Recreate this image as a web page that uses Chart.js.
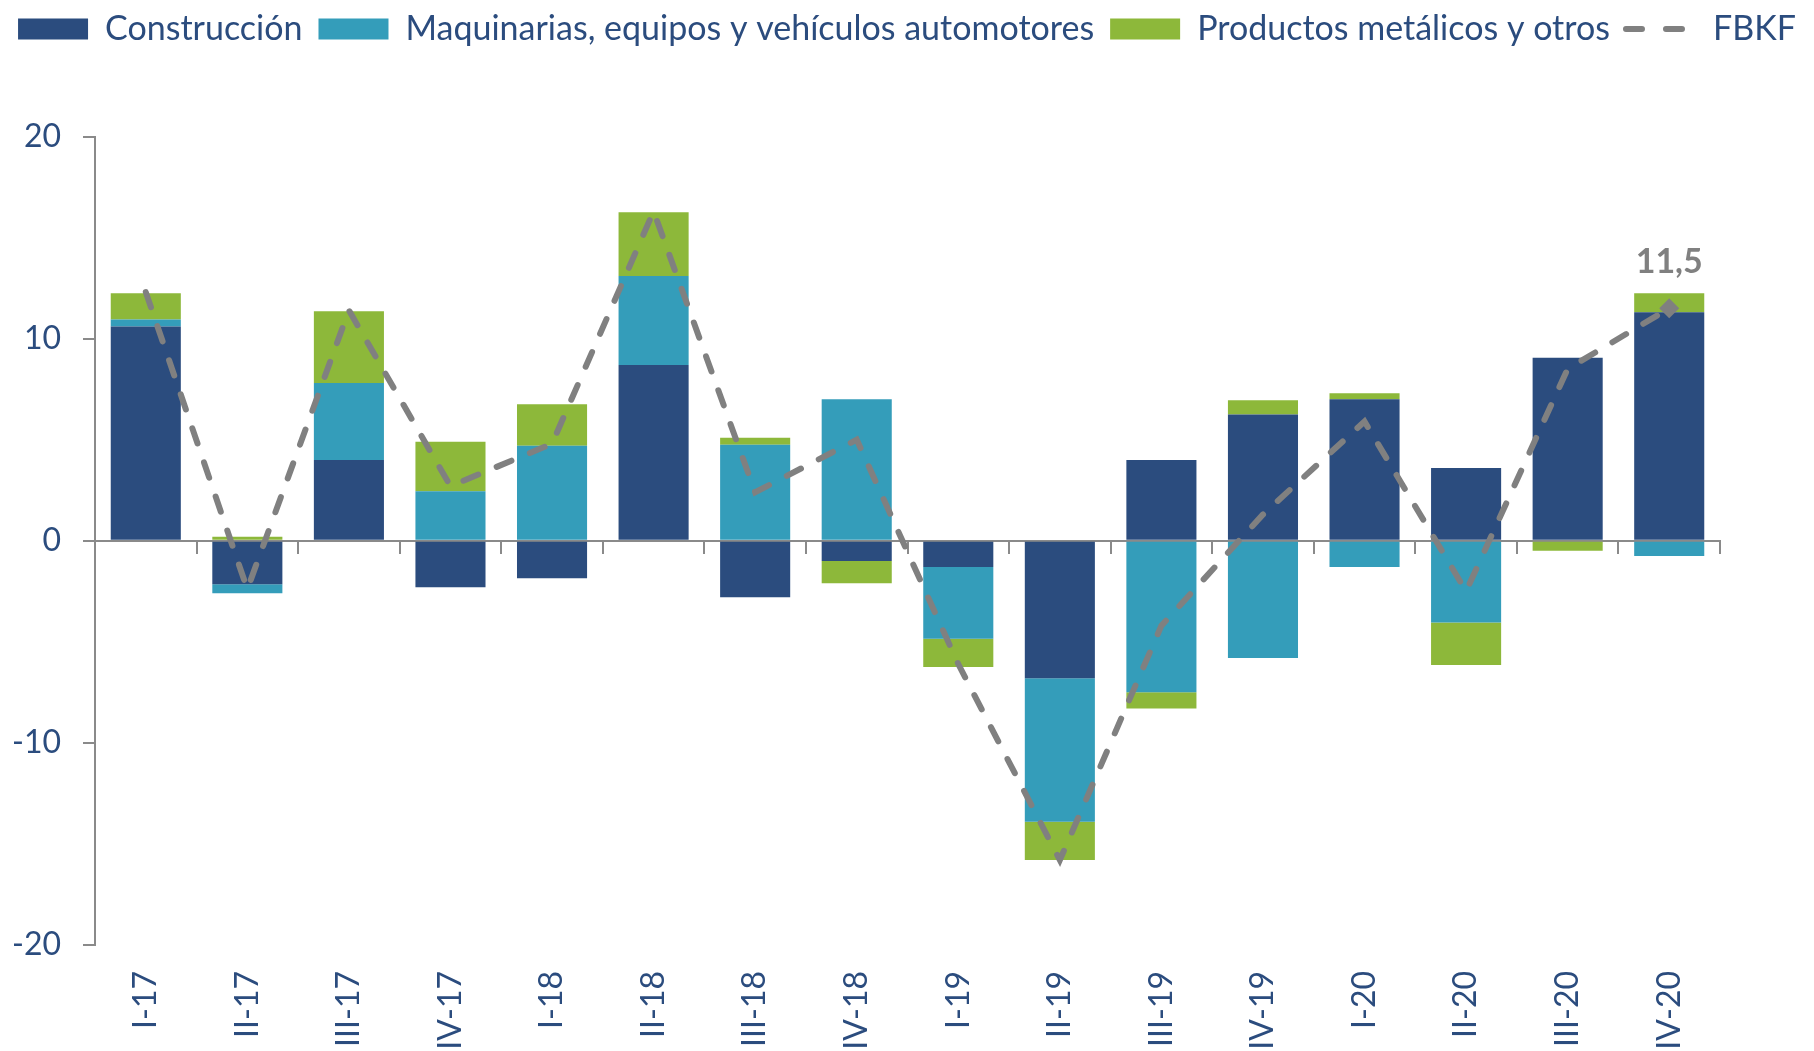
<!DOCTYPE html>
<html>
<head>
<meta charset="utf-8">
<title>FBKF</title>
<script src="https://cdn.jsdelivr.net/npm/chart.js@4.4.1/dist/chart.umd.min.js"></script>
<style>
    html, body { margin: 0; padding: 0; background: #ffffff; }
    #wrap { width: 1814px; height: 1051px; }
</style>
</head>
<body>
<div id="wrap"><canvas id="fbkfChart" width="1814" height="1051"></canvas></div>
<script>
var quarters = ['I-17', 'II-17', 'III-17', 'IV-17', 'I-18', 'II-18', 'III-18', 'IV-18',
                'I-19', 'II-19', 'III-19', 'IV-19', 'I-20', 'II-20', 'III-20', 'IV-20'];
var construccion = [10.6, -2.15, 4.0, -2.3, -1.85, 8.7, -2.8, -1.0, -1.3, -6.8, 4.0, 6.25, 7.0, 3.6, 9.05, 11.3];
var maquinarias = [0.35, -0.45, 3.8, 2.45, 4.7, 4.4, 4.75, 7.0, -3.55, -7.1, -7.5, -5.8, -1.3, -4.05, 0, -0.75];
var productos = [1.3, 0.2, 3.55, 2.45, 2.05, 3.15, 0.35, -1.1, -1.4, -1.9, -0.8, 0.7, 0.3, -2.1, -0.5, 0.95];
var fbkf = [12.3, -2.4, 11.4, 2.7, 4.8, 16.3, 2.4, 5.0, -6.1, -15.8, -4.2, 1.3, 5.9, -2.5, 8.5, 11.5];
var yTicks = [20, 10, 0, -10, -20];

var textBlue = '#2B4C7E';
var axisGray = '#8a8a8a';

Chart.defaults.font.family = 'Lato';

// label above the last FBKF point
var fbkfLabel = {
    id: 'fbkfLabel',
    afterDatasetsDraw: function (chart) {
        var meta = chart.getDatasetMeta(3);
        var last = fbkf.length - 1;
        var pt = meta.data[last];
        var ctx = chart.ctx;
        ctx.save();
        ctx.font = 'bold 34px Lato';
        ctx.fillStyle = '#808080';
        ctx.textAlign = 'center';
        ctx.textBaseline = 'middle';
        ctx.fillText(String(fbkf[last]).replace('.', ','), pt.x, pt.y - 46);
        ctx.restore();
    }
};

function draw() {
    var ctx = document.getElementById('fbkfChart').getContext('2d');
    new Chart(ctx, {
        data: {
            labels: quarters,
            datasets: [
                { type: 'bar', label: 'Construcción', data: construccion, backgroundColor: '#2B4C7E', borderWidth: 0 },
                { type: 'bar', label: 'Maquinarias, equipos y vehículos automotores', data: maquinarias, backgroundColor: '#349DBA', borderWidth: 0 },
                { type: 'bar', label: 'Productos metálicos y otros', data: productos, backgroundColor: '#8DB83A', borderWidth: 0 },
                {
                    type: 'line',
                    label: 'FBKF',
                    data: fbkf,
                    order: -1,
                    borderColor: '#808080',
                    backgroundColor: '#808080',
                    borderWidth: 6,
                    borderDash: [16, 20],
                    borderCapStyle: 'round',
                    fill: false,
                    tension: 0,
                    pointStyle: 'rectRot',
                    pointRadius: function (c) { return c.dataIndex === fbkf.length - 1 ? 10 : 0; },
                    pointBackgroundColor: '#808080',
                    pointBorderWidth: 0
                }
            ]
        },
        options: {
            responsive: false,
            animation: false,
            datasets: {
                bar: { categoryPercentage: 1, barPercentage: 0.69 }
            },
            layout: { padding: { top: -4, left: 0, right: 0, bottom: 0 } },
            plugins: {
                tooltip: { enabled: false },
                legend: {
                    position: 'top',
                    labels: {
                        usePointStyle: true,
                        pointStyleWidth: 70,
                        boxHeight: 21,
                        padding: 16,
                        color: textBlue,
                        font: { size: 34 },
                        generateLabels: function (chart) {
                            var items = Chart.defaults.plugins.legend.labels.generateLabels(chart);
                            items.sort(function (a, b) { return a.datasetIndex - b.datasetIndex; });
                            items.forEach(function (item) {
                                if (item.datasetIndex === 3) {
                                    item.pointStyle = 'line';
                                    item.lineWidth = 6;
                                    item.lineDash = [16, 24];
                                    item.lineCap = 'round';
                                } else {
                                    item.pointStyle = 'rect';
                                    item.lineWidth = 0;
                                }
                            });
                            return items;
                        }
                    }
                },
                // empty title used as a spacer between legend and plot
                title: {
                    display: true,
                    text: '',
                    weight: 100,
                    font: { size: 10, lineHeight: 1 },
                    padding: { top: 0, bottom: 70.5 }
                }
            },
            scales: {
                x: {
                    type: 'category',
                    stacked: true,
                    offset: true,
                    grid: { display: false, drawTicks: false },
                    border: { display: false },
                    ticks: {
                        color: textBlue,
                        font: { size: 32 },
                        minRotation: 90,
                        maxRotation: 90,
                        autoSkip: false,
                        padding: 26
                    },
                    afterFit: function (scale) { scale.height = 106; }
                },
                x0: {
                    type: 'category',
                    axis: 'x',
                    position: { y: 0 },
                    offset: true,
                    grid: { display: true, offset: true, drawOnChartArea: false, tickLength: 12, color: axisGray, lineWidth: 2 },
                    border: { display: true, color: axisGray, width: 2 },
                    ticks: { display: false }
                },
                y: {
                    type: 'linear',
                    position: 'left',
                    stacked: true,
                    min: -20,
                    max: 20,
                    afterBuildTicks: function (scale) {
                        scale.ticks = yTicks.map(function (v) { return { value: v }; });
                    },
                    grid: { display: true, drawOnChartArea: false, tickLength: 12, color: axisGray, lineWidth: 2 },
                    border: { display: true, color: axisGray, width: 2 },
                    ticks: { color: textBlue, font: { size: 32 }, padding: 22 },
                    afterFit: function (scale) { scale.width = 95; }
                },
                yR: {
                    type: 'linear',
                    position: 'right',
                    grid: { display: false, drawTicks: false },
                    border: { display: false },
                    ticks: { display: false },
                    afterFit: function (scale) { scale.width = 94; }
                }
            }
        },
        plugins: [fbkfLabel]
    });
}

if (document.fonts && document.fonts.load) {
    document.fonts.load('32px Lato').then(draw, draw);
} else {
    draw();
}
</script>
</body>
</html>
